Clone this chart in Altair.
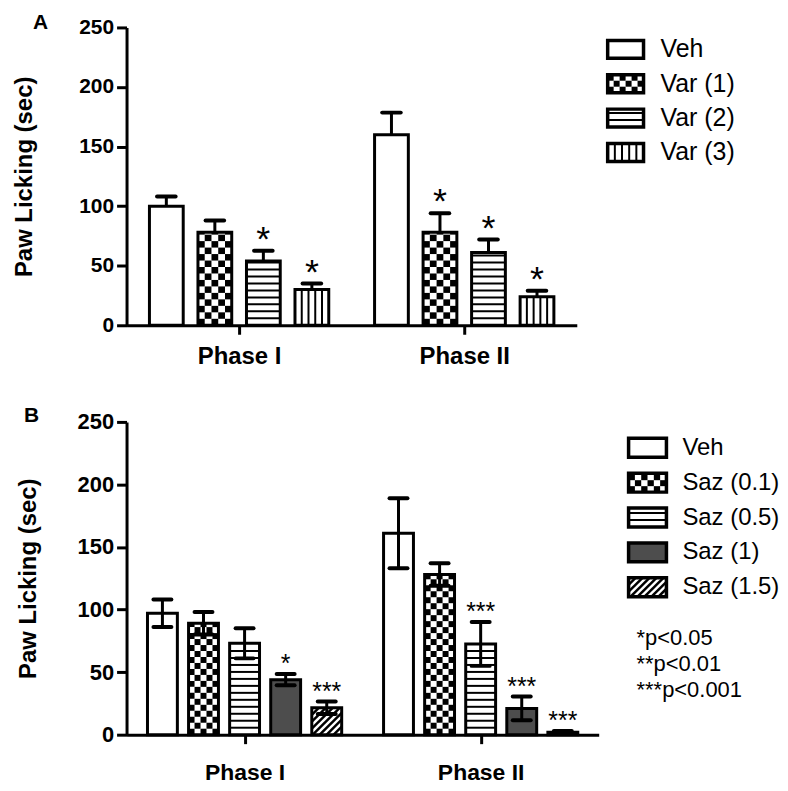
import math
import altair as alt
import pandas as pd

FONT = "Liberation Sans"

# ---------------- data ----------------
phases = ["Phase I", "Phase II"]

a_series = ["Veh", "Var (1)", "Var (2)", "Var (3)"]
a_patterns = ["none", "checker", "hstripe", "vstripe"]
a_fills = ["white", "white", "white", "white"]
a_mean_p1 = [100, 78, 54, 30]
a_err_p1 = [8, 10, 8.5, 5]
a_mean_p2 = [160, 78, 61, 24]
a_err_p2 = [18.5, 16, 11, 5]
a_stars_p1 = ["", "", "*", "*"]
a_stars_p2 = ["", "*", "*", "*"]

b_series = ["Veh", "Saz (0.1)", "Saz (0.5)", "Saz (1)", "Saz (1.5)"]
b_patterns = ["none", "checker", "hstripe", "solid", "hatch"]
b_fills = ["white", "white", "white", "#4d4d4d", "white"]
b_mean_p1 = [97, 89, 73, 44, 21.5]
b_err_p1 = [11, 9, 12, 4.5, 5]
b_mean_p2 = [161, 128, 72.5, 21, 2]
b_err_p2 = [28, 9, 17.5, 9.5, 1]
b_stars_p1 = ["", "", "", "*", "***"]
b_stars_p2 = ["", "", "***", "***", "***"]

p_notes = ["*p<0.05", "**p<0.01", "***p<0.001"]
y_ticks = [0, 50, 100, 150, 200, 250]


# ---------------- pattern helper ----------------
def pattern_shapes(kind, xl, xr, yb, yt, kx, ky, cell=6.5, stripe=7.0, hatch=7.0):
    """Shapes (in data units) that fill a bar with a hatch pattern.
    kx, ky: pixels per data unit (ky negative for a reversed scale)."""
    out = {"cell": [], "h": [], "v": [], "d": []}
    w = (xr - xl) * kx
    h = abs(yt - yb) * abs(ky)
    if kind == "checker":
        ncol = max(1, round(w / cell))
        cw = w / ncol
        nrow = math.ceil(h / cell - 1e-9)
        for r in range(nrow):
            p0 = r * cell
            p1 = min((r + 1) * cell, h)
            for c in range(ncol):
                if (r + c) % 2 == 0:
                    out["cell"].append({"x": xl + c * cw / kx, "x2": xl + (c + 1) * cw / kx,
                                        "y": yb + p0 / ky, "y2": yb + p1 / ky})
    elif kind == "hstripe":
        k = 1
        while k * stripe < h - 1:
            out["h"].append({"x": xl, "x2": xr, "y": yb + k * stripe / ky})
            k += 1
    elif kind == "vstripe":
        n = 5
        for j in range(1, n):
            out["v"].append({"x": xl + j * w / n / kx, "y": yb, "y2": yt})
    elif kind == "hatch":
        c = -h
        while c < w:
            x0 = max(0.0, c)
            x1 = min(w, c + h)
            if x1 > x0:
                out["d"].append({"x": xl + x0 / kx, "x2": xl + x1 / kx,
                                 "y": yb + (x0 - c) / ky, "y2": yb + (x1 - c) / ky})
            c += hatch
    return out


def pattern_layers(shapes, X, X2, Y, Y2):
    layers = []
    if shapes["cell"]:
        layers.append(alt.Chart(pd.DataFrame(shapes["cell"])).mark_rect(color="black").encode(
            x=X("x"), x2=X2("x2"), y=Y("y"), y2=Y2("y2")))
    if shapes["h"]:
        layers.append(alt.Chart(pd.DataFrame(shapes["h"])).mark_rule(color="black", strokeWidth=2).encode(
            x=X("x"), x2=X2("x2"), y=Y("y")))
    if shapes["v"]:
        layers.append(alt.Chart(pd.DataFrame(shapes["v"])).mark_rule(color="black", strokeWidth=2).encode(
            x=X("x"), y=Y("y"), y2=Y2("y2")))
    if shapes["d"]:
        layers.append(alt.Chart(pd.DataFrame(shapes["d"])).mark_rule(color="black", strokeWidth=2.5).encode(
            x=X("x"), x2=X2("x2"), y=Y("y"), y2=Y2("y2")))
    return layers


def merge(acc, s):
    for k in acc:
        acc[k].extend(s[k])


# ---------------- panel ----------------
def panel(letter, series, patterns, fills, means, errs, stars, W, H, spacing, barw,
          cap_frac, both_err, cell, tick_font, title_pad, xlab_font, xlab_pad,
          star_size, star_dy, letter_xy):
    kx = W / 2.0
    ky = H / 250.0
    n = len(series)
    bars, err_rows, star_rows = [], [], []
    shapes = {"cell": [], "h": [], "v": [], "d": []}
    for pi in range(len(phases)):
        for si, s in enumerate(series):
            xc = (pi + 1) + (si - (n - 1) / 2) * spacing
            xl, xr = xc - barw / 2, xc + barw / 2
            m = means[pi][si]
            e = errs[pi][si]
            bars.append({"xl": xl, "xr": xr, "y0": 0, "mean": m, "fill": fills[si]})
            merge(shapes, pattern_shapes(patterns[si], xl, xr, 0, m, kx, ky, cell=cell))
            err_rows.append({"x": xc, "lo": (m - e) if both_err else m, "hi": m + e,
                             "cl": xc - cap_frac * barw / 2, "cr": xc + cap_frac * barw / 2})
            if stars[pi][si]:
                star_rows.append({"x": xc, "y": m + e, "t": stars[pi][si]})

    xscale = alt.Scale(domain=[0.5, 2.5], nice=False, zero=False)
    yscale = alt.Scale(domain=[0, 250], nice=False)
    label_expr = "datum.value == 1 ? '%s' : (datum.value == 2 ? '%s' : '')" % (phases[0], phases[1])
    xaxis = alt.Axis(values=[1, 2], labelExpr=label_expr, title=None, grid=False,
                     domainWidth=3, domainColor="black", tickWidth=3, tickSize=9,
                     tickColor="black", labelFont=FONT, labelFontSize=xlab_font,
                     labelFontWeight="bold", labelColor="black", labelPadding=xlab_pad)
    yaxis = alt.Axis(values=y_ticks, title="Paw Licking (sec)", grid=False,
                     domainWidth=3, domainColor="black", tickWidth=3, tickSize=10,
                     tickColor="black", labelFont=FONT, labelFontSize=tick_font,
                     labelFontWeight="bold", labelColor="black", labelPadding=3,
                     titleFont=FONT, titleFontSize=24, titleFontWeight="bold",
                     titleColor="black", titlePadding=title_pad)

    def X(f):
        return alt.X(f, type="quantitative", scale=xscale, axis=xaxis)

    def Y(f):
        return alt.Y(f, type="quantitative", scale=yscale, axis=yaxis)

    def X2(f):
        return alt.X2(f)

    def Y2(f):
        return alt.Y2(f)

    bars_df = pd.DataFrame(bars)
    err_df = pd.DataFrame(err_rows)
    layers = [
        alt.Chart(bars_df).mark_rect().encode(
            x=X("xl"), x2=X2("xr"), y=Y("y0"), y2=Y2("mean"),
            fill=alt.Fill("fill:N", scale=None)),
    ]
    layers += pattern_layers(shapes, X, X2, Y, Y2)
    layers.append(alt.Chart(bars_df).mark_rect(fillOpacity=0, stroke="black", strokeWidth=3).encode(
        x=X("xl"), x2=X2("xr"), y=Y("y0"), y2=Y2("mean")))
    layers.append(alt.Chart(err_df).mark_rule(color="black", strokeWidth=3).encode(
        x=X("x"), y=Y("lo"), y2=Y2("hi")))
    layers.append(alt.Chart(err_df).mark_rule(color="black", strokeWidth=4, strokeCap="round").encode(
        x=X("cl"), x2=X2("cr"), y=Y("hi")))
    if both_err:
        layers.append(alt.Chart(err_df).mark_rule(color="black", strokeWidth=4, strokeCap="round").encode(
            x=X("cl"), x2=X2("cr"), y=Y("lo")))
    if star_rows:
        layers.append(alt.Chart(pd.DataFrame(star_rows)).mark_text(
            font=FONT, fontSize=star_size, baseline="alphabetic", align="center",
            dy=star_dy, color="black").encode(x=X("x"), y=Y("y"), text="t:N"))
    layers.append(alt.Chart(pd.DataFrame({"t": [letter]})).mark_text(
        font=FONT, fontSize=21, fontWeight="bold", align="left", baseline="alphabetic",
        color="black").encode(x=alt.value(letter_xy[0]), y=alt.value(letter_xy[1]), text="t:N"))
    return alt.layer(*layers).properties(width=W, height=H)


# ---------------- custom legend ----------------
def legend(series, patterns, fills, Wl, H, sw, sh, row_sp, first_px, text_px, font_size,
           notes=None, note_first_px=0, note_sp=26, note_x_px=0, note_size=22):
    ux = float(sw)
    dmin = -first_px / row_sp
    dmax = dmin + H / row_sp
    xs = alt.Scale(domain=[0, Wl / ux], nice=False, zero=False)
    ys = alt.Scale(domain=[dmin, dmax], nice=False, zero=False, reverse=True)

    def X(f):
        return alt.X(f, type="quantitative", scale=xs, axis=None)

    def Y(f):
        return alt.Y(f, type="quantitative", scale=ys, axis=None)

    half = sh / 2 / row_sp
    rows = []
    shapes = {"cell": [], "h": [], "v": [], "d": []}
    for i, s in enumerate(series):
        rows.append({"row": i, "label": s, "x0": 0, "x1": 1, "yb": i + half, "yt": i - half,
                     "fill": fills[i], "tx": text_px / ux})
        merge(shapes, pattern_shapes(patterns[i], 0, 1, i + half, i - half, ux, -row_sp, cell=6))
    df = pd.DataFrame(rows)
    layers = [alt.Chart(df).mark_rect().encode(
        x=X("x0"), x2=alt.X2("x1"), y=Y("yb"), y2=alt.Y2("yt"),
        fill=alt.Fill("fill:N", scale=None))]
    layers += pattern_layers(shapes, X, alt.X2, Y, alt.Y2)
    layers.append(alt.Chart(df).mark_rect(fillOpacity=0, stroke="black", strokeWidth=3.5).encode(
        x=X("x0"), x2=alt.X2("x1"), y=Y("yb"), y2=alt.Y2("yt")))
    layers.append(alt.Chart(df).mark_text(font=FONT, fontSize=font_size, align="left",
                                          baseline="middle", color="black").encode(
        x=X("tx"), y=Y("row"), text="label:N"))
    if notes:
        ndf = pd.DataFrame({"t": notes,
                            "row": [(note_first_px + i * note_sp - first_px) / row_sp for i in range(len(notes))],
                            "x": [note_x_px / ux] * len(notes)})
        layers.append(alt.Chart(ndf).mark_text(font=FONT, fontSize=note_size, align="left",
                                               baseline="middle", color="black").encode(
            x=X("x"), y=Y("row"), text="t:N"))
    return alt.layer(*layers).properties(width=Wl, height=H)


panel_a = panel("A", a_series, a_patterns, a_fills,
                [a_mean_p1, a_mean_p2], [a_err_p1, a_err_p2], [a_stars_p1, a_stars_p2],
                W=452, H=299, spacing=0.2155, barw=0.150, cap_frac=0.55, both_err=False,
                cell=6.5, tick_font=21, title_pad=42, xlab_font=24, xlab_pad=10,
                star_size=36, star_dy=0, letter_xy=(-94, 2))
legend_a = legend(a_series, a_patterns, a_fills, Wl=140, H=299, sw=36, sh=18,
                  row_sp=34.5, first_px=22, text_px=53, font_size=25)

panel_b = panel("B", b_series, b_patterns, b_fills,
                [b_mean_p1, b_mean_p2], [b_err_p1, b_err_p2], [b_stars_p1, b_stars_p2],
                W=474, H=314, spacing=0.174, barw=0.1266, cap_frac=0.6, both_err=True,
                cell=6, tick_font=22, title_pad=37, xlab_font=23, xlab_pad=18,
                star_size=25, star_dy=-2, letter_xy=(-103, 0))
legend_b = legend(b_series, b_patterns, b_fills, Wl=148, H=314, sw=38, sh=19,
                  row_sp=35, first_px=26, text_px=54, font_size=24,
                  notes=p_notes, note_first_px=217, note_sp=26, note_x_px=8, note_size=22)

top = alt.hconcat(panel_a, legend_a, spacing=29)
bottom = alt.hconcat(panel_b, legend_b, spacing=28)
chart = alt.vconcat(top, bottom, spacing=37).properties(
    padding={"left": 4, "top": 3, "right": 0, "bottom": 0},
    background="white",
).configure_view(stroke=None)

chart.save("out.html", embed_options={"renderer": "svg", "actions": False})
